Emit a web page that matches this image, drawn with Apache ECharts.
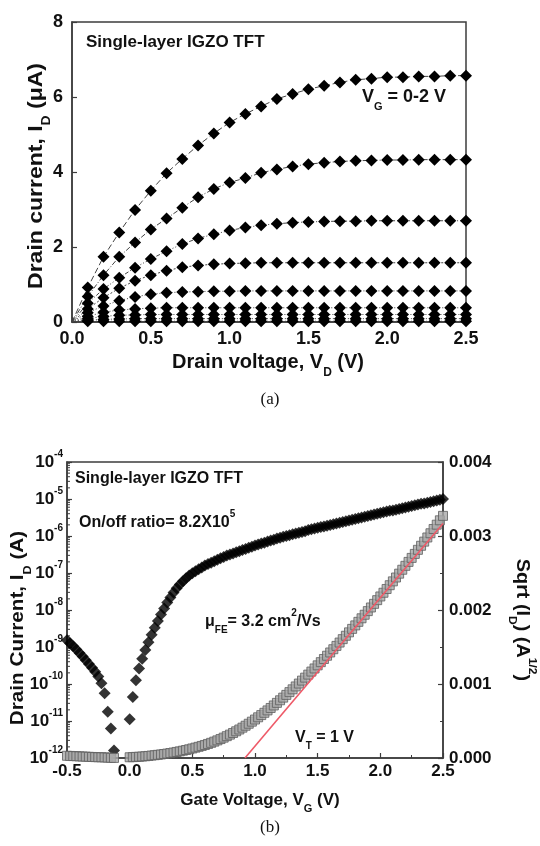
<!DOCTYPE html>
<html>
<head>
<meta charset="utf-8">
<script src="https://cdn.jsdelivr.net/npm/echarts/dist/echarts.min.js"></script>
<style>
  html, body { margin: 0; padding: 0; background: #fff; }
  #chart { width: 540px; height: 846px; }
</style>
</head>
<body>
<div id="chart"></div>
<script>
// ---------- (a) output characteristics: I_D vs V_D for V_G = 0 ... 2 V ----------
const drainVoltage = [0, 0.1, 0.2, 0.3, 0.4, 0.5, 0.6, 0.7, 0.8, 0.9, 1.0, 1.1, 1.2,
  1.3, 1.4, 1.5, 1.6, 1.7, 1.8, 1.9, 2.0, 2.1, 2.2, 2.3, 2.4, 2.5];

// drain current in µA, one list per gate-voltage step (highest V_G first)
const idVg200 = [0, 0.92, 1.74, 2.39, 2.99, 3.50, 3.97, 4.35, 4.71, 5.03, 5.32, 5.55, 5.75,
  5.95, 6.08, 6.21, 6.30, 6.39, 6.46, 6.49, 6.53, 6.53, 6.55, 6.55, 6.57, 6.57];
const idVg175 = [0, 0.68, 1.25, 1.74, 2.12, 2.47, 2.76, 3.05, 3.33, 3.55, 3.72, 3.84, 3.98,
  4.07, 4.15, 4.21, 4.25, 4.28, 4.30, 4.31, 4.32, 4.32, 4.33, 4.33, 4.33, 4.33];
const idVg150 = [0, 0.50, 0.88, 1.18, 1.45, 1.68, 1.89, 2.08, 2.23, 2.34, 2.44, 2.52, 2.58,
  2.62, 2.65, 2.67, 2.68, 2.69, 2.69, 2.70, 2.70, 2.70, 2.70, 2.70, 2.70, 2.70];
const idVg125 = [0, 0.35, 0.65, 0.90, 1.10, 1.25, 1.37, 1.46, 1.51, 1.54, 1.56, 1.57, 1.58,
  1.58, 1.58, 1.58, 1.58, 1.58, 1.58, 1.58, 1.58, 1.58, 1.58, 1.58, 1.58, 1.58];
const idVg100 = [0, 0.25, 0.43, 0.57, 0.67, 0.74, 0.78, 0.80, 0.81, 0.82, 0.82, 0.83, 0.83,
  0.83, 0.83, 0.83, 0.83, 0.83, 0.83, 0.83, 0.83, 0.83, 0.83, 0.83, 0.83, 0.83];
const idVg075 = [0, 0.15, 0.26, 0.32, 0.35, 0.37, 0.38, 0.38, 0.38, 0.38, 0.38, 0.38, 0.38,
  0.38, 0.38, 0.38, 0.38, 0.38, 0.38, 0.38, 0.38, 0.38, 0.38, 0.38, 0.38, 0.38];
const idVg050 = [0, 0.09, 0.15, 0.18, 0.19, 0.20, 0.20, 0.20, 0.20, 0.20, 0.20, 0.20, 0.20,
  0.20, 0.20, 0.20, 0.20, 0.20, 0.20, 0.20, 0.20, 0.20, 0.20, 0.20, 0.20, 0.20];
const idVg025 = [0, 0.05, 0.07, 0.08, 0.09, 0.09, 0.09, 0.09, 0.09, 0.09, 0.09, 0.09, 0.09,
  0.09, 0.09, 0.09, 0.09, 0.09, 0.09, 0.09, 0.09, 0.09, 0.09, 0.09, 0.09, 0.09];
const idVg000 = [0, 0.02, 0.02, 0.02, 0.02, 0.02, 0.02, 0.02, 0.02, 0.02, 0.02, 0.02, 0.02,
  0.02, 0.02, 0.02, 0.02, 0.02, 0.02, 0.02, 0.02, 0.02, 0.02, 0.02, 0.02, 0.02];
const outputCurves = [idVg200, idVg175, idVg150, idVg125, idVg100, idVg075, idVg050, idVg025, idVg000];
const outputDash = [[6, 3], [5, 2, 1, 2], [4, 2, 1, 2, 1, 2], [2, 2], [1, 2], [1, 2], [1, 2], [1, 2], [1, 2]];

// ---------- (b) transfer characteristics ----------
const SWEEP_START = -0.5;
const SWEEP_STEP = 0.025;
// log10 of drain current (A); null = below the measurement floor
const drainCurrentLog10 = [
  -8.82, -8.90, -8.98, -9.07, -9.16, -9.26, -9.36, -9.46, -9.56, -9.67,
  -9.80, -9.98, -10.25, -10.75, -11.20, -11.80, null, null, null, null,
  -10.95, -10.35, -9.90, -9.58, -9.32, -9.08, -8.87, -8.67, -8.48, -8.30,
  -8.12, -7.96, -7.80, -7.66, -7.53, -7.41, -7.31, -7.22, -7.14, -7.07,
  -7.01, -6.95, -6.90, -6.85, -6.80, -6.76, -6.72, -6.68, -6.64, -6.60,
  -6.57, -6.53, -6.50, -6.47, -6.44, -6.41, -6.38, -6.35, -6.32, -6.29,
  -6.26, -6.23, -6.20, -6.18, -6.15, -6.12, -6.10, -6.07, -6.05, -6.02,
  -6.00, -5.98, -5.95, -5.93, -5.91, -5.89, -5.87, -5.84, -5.82, -5.80,
  -5.78, -5.76, -5.74, -5.72, -5.70, -5.68, -5.66, -5.64, -5.62, -5.60,
  -5.58, -5.56, -5.54, -5.52, -5.50, -5.48, -5.46, -5.44, -5.42, -5.40,
  -5.38, -5.36, -5.34, -5.32, -5.31, -5.29, -5.27, -5.25, -5.23, -5.21,
  -5.19, -5.17, -5.15, -5.13, -5.12, -5.10, -5.08, -5.06, -5.04, -5.02,
  -5.00
];
// sqrt(I_D) in A^1/2
const sqrtDrainCurrent = [
  0.000030, 0.000028, 0.000026, 0.000024, 0.000022, 0.000020, 0.000018, 0.000016, 0.000014, 0.000012,
  0.000010, 0.000010, 0.000008, 0.000005, 0.000003, 0.000001, null, null, null, null,
  0.000010, 0.000012, 0.000015, 0.000017, 0.000020, 0.000024, 0.000028, 0.000033, 0.000038, 0.000043,
  0.000048, 0.000054, 0.000060, 0.000067, 0.000074, 0.000082, 0.000090, 0.000099, 0.000108, 0.000118,
  0.000129, 0.000140, 0.000151, 0.000163, 0.000176, 0.000190, 0.000205, 0.000221, 0.000238, 0.000256,
  0.000275, 0.000295, 0.000316, 0.000338, 0.000361, 0.000385, 0.000410, 0.000436, 0.000463, 0.000491,
  0.000520, 0.000550, 0.000580, 0.000611, 0.000643, 0.000676, 0.000710, 0.000745, 0.000780, 0.000816,
  0.000853, 0.000890, 0.000928, 0.000967, 0.001006, 0.001046, 0.001086, 0.001127, 0.001168, 0.001210,
  0.001252, 0.001295, 0.001338, 0.001382, 0.001426, 0.001470, 0.001515, 0.001560, 0.001606, 0.001652,
  0.001698, 0.001745, 0.001792, 0.001840, 0.001888, 0.001936, 0.001985, 0.002034, 0.002083, 0.002133,
  0.002183, 0.002233, 0.002284, 0.002335, 0.002387, 0.002439, 0.002491, 0.002544, 0.002597, 0.002650,
  0.002704, 0.002758, 0.002813, 0.002868, 0.002924, 0.002980, 0.003037, 0.003095, 0.003153, 0.003212,
  0.003272
];
// linear fit of sqrt(I_D) giving V_T
const fitVoltage = [0.92, 2.5];
const fitSqrt = [0, 0.00317];

// ---------- shared styling ----------
const FONT = '"Liberation Sans", Arial, Helvetica, sans-serif';
const INK = '#111';
const FRAME = '#3c3c3c';

function richSet(size) {
  const small = Math.round(size * 0.62);
  return {
    t: { fontSize: size, fontWeight: 'bold', fontFamily: FONT, fill: INK, color: INK,
         lineHeight: Math.round(size * 1.7), verticalAlign: 'middle' },
    sub: { fontSize: small, fontWeight: 'bold', fontFamily: FONT, fill: INK, color: INK,
           lineHeight: small, verticalAlign: 'bottom' },
    sup: { fontSize: small, fontWeight: 'bold', fontFamily: FONT, fill: INK, color: INK,
           lineHeight: small, verticalAlign: 'top' }
  };
}

// stretch: extra scale along the text's own baseline direction
function label(x, y, text, size, align, rotation, stretch) {
  return {
    type: 'text', x: x, y: y, rotation: rotation || 0, scaleX: stretch || 1, silent: true,
    style: {
      text: text, fontSize: size, fontWeight: 'bold', fontFamily: FONT, fill: INK,
      textAlign: align || 'left', textVerticalAlign: 'middle', rich: richSet(size)
    }
  };
}

function caption(x, y, text) {
  return {
    type: 'text', x: x, y: y, silent: true,
    style: { text: text, font: '17px "Liberation Serif", "Times New Roman", serif', fill: INK,
             textAlign: 'center', textVerticalAlign: 'middle' }
  };
}

const gateVoltage = drainCurrentLog10.map((_, i) => +(SWEEP_START + i * SWEEP_STEP).toFixed(3));

const transferData = [];
const sqrtData = [];
gateVoltage.forEach((v, i) => {
  if (drainCurrentLog10[i] !== null) transferData.push([v, Math.pow(10, drainCurrentLog10[i])]);
  if (sqrtDrainCurrent[i] !== null) sqrtData.push([v, sqrtDrainCurrent[i]]);
});

// log-axis minor ticks (2..9 x 10^n)
const logMinor = [];
for (let e = -12; e < -4; e++) {
  for (let k = 2; k <= 9; k++) logMinor.push([SWEEP_START, k * Math.pow(10, e)]);
}

const outputSeries = outputCurves.map((curve, idx) => ({
  type: 'line',
  xAxisIndex: 0, yAxisIndex: 0,
  data: drainVoltage.map((v, i) => [v, curve[i]]),
  symbol: 'diamond',
  symbolSize: (val) => (val[0] === 0 ? 0 : 12),
  itemStyle: { color: '#000' },
  lineStyle: { color: '#444', width: 1, type: outputDash[idx] },
  z: 3 + idx
}));

const axisLineStyle = { show: true, onZero: false, lineStyle: { color: FRAME, width: 1.5 } };
const tickStyle = { show: true, inside: true, length: 5, lineStyle: { color: FRAME, width: 1.2 } };

const option = {
  backgroundColor: '#fff',
  animation: false,
  grid: [
    { left: 72, top: 22, width: 394, height: 300, show: true, borderColor: FRAME, borderWidth: 1.5 },
    { left: 67, top: 462, width: 376, height: 296, show: true, borderColor: FRAME, borderWidth: 1.5 }
  ],
  xAxis: [
    {
      gridIndex: 0, type: 'value', min: 0, max: 2.5, interval: 0.5,
      axisLine: axisLineStyle, axisTick: tickStyle, splitLine: { show: false },
      axisLabel: { margin: 8, fontSize: 18, fontWeight: 'bold', fontFamily: FONT, color: INK,
                   formatter: (v) => v.toFixed(1) }
    },
    {
      gridIndex: 1, type: 'value', min: -0.5, max: 2.5, interval: 0.5,
      axisLine: axisLineStyle, axisTick: tickStyle,
      minorTick: { show: true, splitNumber: 2, length: 3, lineStyle: { color: FRAME, width: 1 } },
      splitLine: { show: false },
      axisLabel: { margin: 5, fontSize: 17, fontWeight: 'bold', fontFamily: FONT, color: INK,
                   formatter: (v) => v.toFixed(1) }
    }
  ],
  yAxis: [
    {
      gridIndex: 0, type: 'value', min: 0, max: 8, interval: 2,
      axisLine: axisLineStyle, axisTick: tickStyle, splitLine: { show: false },
      axisLabel: { margin: 9, fontSize: 18, fontWeight: 'bold', fontFamily: FONT, color: INK }
    },
    {
      gridIndex: 1, type: 'log', logBase: 10, min: 1e-12, max: 1e-4, splitNumber: 8,
      axisLine: axisLineStyle, axisTick: tickStyle, splitLine: { show: false },
      axisLabel: {
        margin: 4, fontFamily: FONT, color: INK,
        formatter: (v) => '{b|10}{s|' + Math.round(Math.log10(v)) + '}',
        rich: {
          b: { fontSize: 17, fontWeight: 'bold', fontFamily: FONT, color: INK, lineHeight: 26, verticalAlign: 'middle' },
          s: { fontSize: 10, fontWeight: 'bold', fontFamily: FONT, color: INK, lineHeight: 10, verticalAlign: 'top' }
        }
      }
    },
    {
      gridIndex: 1, type: 'value', position: 'right', min: 0, max: 0.004, interval: 0.001,
      axisLine: axisLineStyle, axisTick: tickStyle,
      minorTick: { show: true, splitNumber: 2, length: 3, lineStyle: { color: FRAME, width: 1 } },
      splitLine: { show: false },
      axisLabel: { margin: 6, fontSize: 17, fontWeight: 'bold', fontFamily: FONT, color: INK,
                   formatter: (v) => v.toFixed(3) }
    }
  ],
  series: outputSeries.concat([
    {
      type: 'custom', xAxisIndex: 1, yAxisIndex: 1, data: logMinor, silent: true, clip: false,
      renderItem: (params, api) => {
        const p = api.coord([api.value(0), api.value(1)]);
        return { type: 'line', shape: { x1: p[0], y1: p[1], x2: p[0] + 3, y2: p[1] },
                 style: { stroke: FRAME, lineWidth: 1 } };
      },
      z: 1
    },
    {
      type: 'scatter', xAxisIndex: 1, yAxisIndex: 1, data: transferData,
      symbol: 'diamond', symbolSize: 12, itemStyle: { color: '#000' }, z: 3
    },
    {
      type: 'scatter', xAxisIndex: 1, yAxisIndex: 2, data: sqrtData,
      symbol: 'rect', symbolSize: 9,
      itemStyle: { color: '#a9a9a9', borderColor: '#5e5e5e', borderWidth: 1 }, z: 4
    },
    {
      type: 'line', xAxisIndex: 1, yAxisIndex: 2,
      data: fitVoltage.map((v, i) => [v, fitSqrt[i]]),
      symbol: 'none', lineStyle: { color: '#ee5a68', width: 1.6 }, z: 5
    }
  ]),
  graphic: [
    label(86, 42, '{t|Single-layer IGZO TFT}', 17),
    label(362, 97, '{t|V}{sub|G}{t| = 0-2 V}', 18),
    label(36, 176, '{t|Drain current, I}{sub|D}{t| (μA)}', 20, 'center', Math.PI / 2, 1.15),
    label(268, 362, '{t|Drain voltage, V}{sub|D}{t| (V)}', 20, 'center'),
    caption(270, 400, '(a)'),

    label(75, 479, '{t|Single-layer IGZO TFT}', 16),
    label(79, 523, '{t|On/off ratio= 8.2X10}{sup|5}', 16),
    label(205, 622, '{t|μ}{sub|FE}{t|= 3.2 cm}{sup|2}{t|/Vs}', 16),
    label(295, 738, '{t|V}{sub|T}{t| = 1 V}', 16),
    label(260, 800, '{t|Gate Voltage, V}{sub|G}{t| (V)}', 17, 'center'),
    label(18, 628, '{t|Drain Current, I}{sub|D}{t| (A)}', 18, 'center', Math.PI / 2, 1.15),
    label(522, 620, '{t|Sqrt (I}{sub|D}{t|) (A}{sup|1/2}{t|)}', 18, 'center', -Math.PI / 2, 1.1),
    caption(270, 828, '(b)')
  ]
};

const chart = echarts.init(document.getElementById('chart'), null, { renderer: 'canvas' });
chart.setOption(option);
</script>
</body>
</html>
